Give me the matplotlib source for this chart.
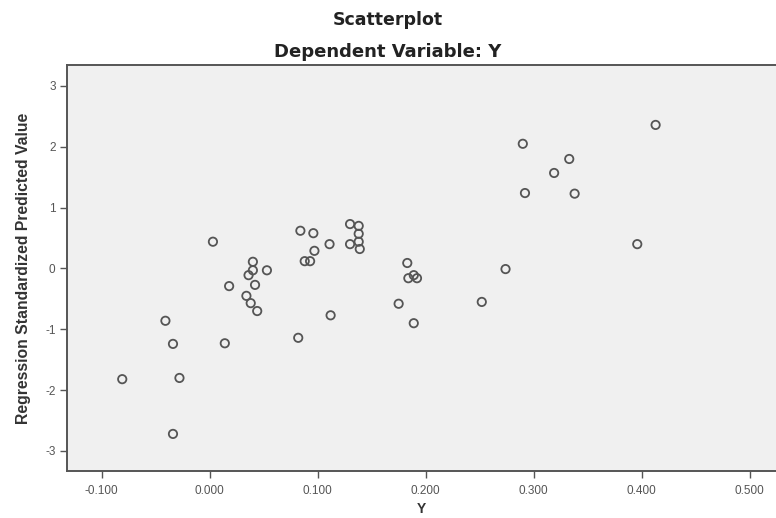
import matplotlib
matplotlib.use("Agg")
import matplotlib.pyplot as plt

plt.rcParams["font.family"] = ["Liberation Sans", "DejaVu Sans"]
plt.rcParams["axes.unicode_minus"] = False

# observed Y vs regression standardized predicted value
y_observed = [
    0.413, 0.290, 0.333, 0.319, 0.292, 0.338, 0.396, 0.274, 0.252,
    0.003, 0.084, 0.096, 0.111, 0.130, 0.138, 0.138, 0.138, 0.130,
    0.139, 0.097, 0.088, 0.093, 0.040, 0.040, 0.053, 0.036, 0.018,
    0.042, 0.034, 0.038, 0.044, -0.041, 0.112, -0.034, 0.014, 0.082,
    0.183, 0.184, 0.189, 0.192, 0.175, 0.189, -0.081, -0.028, -0.034,
]
predicted_std = [
    2.36, 2.05, 1.80, 1.57, 1.24, 1.23, 0.40, -0.01, -0.55,
    0.44, 0.62, 0.58, 0.40, 0.73, 0.70, 0.57, 0.44, 0.40,
    0.32, 0.29, 0.12, 0.12, 0.11, -0.03, -0.03, -0.11, -0.29,
    -0.27, -0.45, -0.57, -0.70, -0.86, -0.77, -1.24, -1.23, -1.14,
    0.09, -0.16, -0.11, -0.16, -0.58, -0.90, -1.82, -1.80, -2.72,
]

x_ticks = [-0.1, 0.0, 0.1, 0.2, 0.3, 0.4, 0.5]
x_tick_labels = ["-0.100", "0.000", "0.100", "0.200", "0.300", "0.400", "0.500"]
y_ticks = [-3, -2, -1, 0, 1, 2, 3]

fig = plt.figure(figsize=(7.76, 5.18), dpi=100)
ax = fig.add_axes([0.086, 0.0907, 0.914, 0.7838])
ax.set_facecolor("#f0f0f0")

ax.scatter(y_observed, predicted_std, s=36, facecolors="none",
           edgecolors="#555555", linewidths=1.3, zorder=3)

ax.set_xlim(-0.1324, 0.5245)
ax.set_ylim(-3.33, 3.345)
ax.set_xticks(x_ticks)
ax.set_xticklabels(x_tick_labels)
ax.set_yticks(y_ticks)

for side in ["left", "bottom", "top"]:
    ax.spines[side].set_color("#555555")
    ax.spines[side].set_linewidth(1.4)
ax.spines["right"].set_visible(False)

ax.tick_params(axis="both", direction="out", length=5, width=1,
               color="#555555", labelsize=8.5, labelcolor="#555555")
ax.tick_params(axis="x", pad=5)
ax.tick_params(axis="y", pad=3)

ax.set_xlabel("Y", fontsize=10, fontweight="bold", color="#333333", labelpad=4)
ax.set_ylabel("Regression Standardized Predicted Value", fontsize=11.3,
              fontweight="bold", color="#333333", labelpad=10)

fig.text(0.5, 0.961, "Scatterplot", fontsize=12.5, fontweight="bold",
         family="DejaVu Sans", ha="center", va="center", color="#222222")
fig.text(0.5, 0.899, "Dependent Variable: Y", fontsize=13, fontweight="bold",
         family="DejaVu Sans", ha="center", va="center", color="#222222")

fig.savefig("out.png", dpi=100, facecolor="white")
